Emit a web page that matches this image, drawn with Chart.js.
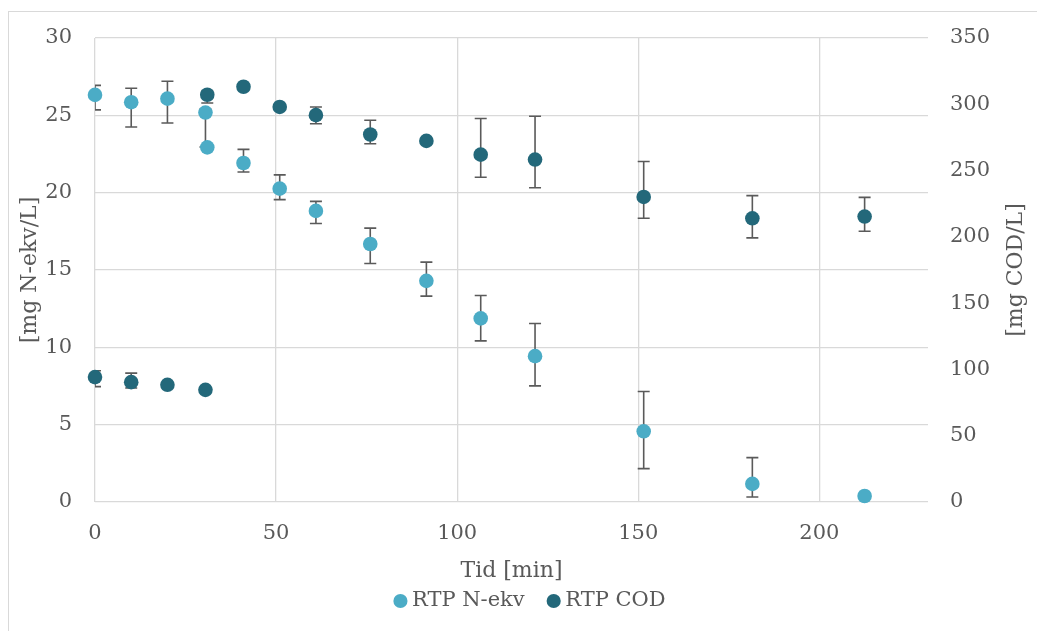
<!DOCTYPE html>
<html>
<head>
<meta charset="utf-8">
<script src="https://cdn.jsdelivr.net/npm/chart.js@4.4.1/dist/chart.umd.min.js"></script>
<style>
  html, body { margin: 0; padding: 0; background: #fff; overflow: hidden; }
  #frame { position: absolute; left: 8px; top: 11px; width: 1100px; height: 700px; border: 1px solid #d9d9d9; }
  #wrap { position: absolute; left: 0; top: 0; width: 1037px; height: 631px; }
</style>
</head>
<body>
<div id="frame"></div>
<div id="wrap"><canvas id="chart"></canvas></div>
<script>
// time in minutes (shared by both series)
var time = [0, 10, 20, 30.5, 31, 41, 51, 61, 76, 91.5, 106.5, 121.5, 151.5, 181.5, 212.5];

// RTP N-ekv [mg N-ekv/L], left axis
var nEkv  = [26.32, 25.85, 26.08, 25.18, 22.93, 21.92, 20.26, 18.82, 16.68, 14.30, 11.87, 9.43, 4.57, 1.17, 0.39];
var nLow  = [25.35, 24.25, 24.50, 22.95, null, 21.34, 19.55, 18.01, 15.42, 13.31, 10.42, 7.51, 2.16, 0.32, null];
var nHigh = [26.94, 26.75, 27.20, 25.40, null, 22.80, 21.15, 19.44, 17.71, 15.51, 13.35, 11.54, 7.14, 2.87, null];

// RTP COD [mg COD/L], right axis
var cod     = [94.2, 90.4, 88.4, 84.6, 307.2, 313.2, 298.0, 291.8, 277.2, 272.4, 262.0, 258.3, 230.1, 214.0, 215.3];
var codLow  = [87.0, 86.0, null, null, 301.0, null, null, 285.3, 270.2, null, 245.0, 237.0, 214.0, 199.2, 204.2];
var codHigh = [99.0, 97.2, null, null, 310.0, null, null, 298.0, 288.0, null, 289.3, 291.0, 256.8, 231.1, 229.8];

var seriesNames = ["RTP N-ekv", "RTP COD"];
var xTitle = "Tid [min]";
var leftTitle = "[mg N-ekv/L]";
var rightTitle = "[mg COD/L]";

var errors = [
	{ low: nLow, high: nHigh },
	{ low: codLow, high: codHigh }
];

function toPoints(ys) {
	var pts = [];
	for (var i = 0; i < time.length; i++) {
		pts.push({ x: time[i], y: ys[i] });
	}
	return pts;
}

var serif = '"DejaVu Serif", "Liberation Serif", serif';
var textGray = "#595959";
var gridGray = "#d9d9d9";

// error bars, drawn under the markers
var errorBars = {
	id: "errorBars",
	beforeDatasetsDraw: function(chart) {
		var ctx = chart.ctx;
		var area = chart.chartArea;
		var xs = chart.scales.x;
		ctx.save();
		ctx.beginPath();
		ctx.rect(area.left, area.top, area.right - area.left, area.bottom - area.top);
		ctx.clip();
		ctx.strokeStyle = "#5a5a5a";
		ctx.lineWidth = 1.6;
		chart.data.datasets.forEach(function(ds, d) {
			var ys = chart.scales[ds.yAxisID];
			var err = errors[d];
			for (var i = 0; i < time.length; i++) {
				if (err.low[i] == null) continue;
				var px = xs.getPixelForValue(time[i]);
				var top = ys.getPixelForValue(err.high[i]);
				var bot = ys.getPixelForValue(err.low[i]);
				ctx.beginPath();
				ctx.moveTo(px, top); ctx.lineTo(px, bot);
				ctx.moveTo(px - 6, top); ctx.lineTo(px + 6, top);
				ctx.moveTo(px - 6, bot); ctx.lineTo(px + 6, bot);
				ctx.stroke();
			}
		});
		ctx.restore();
	}
};

// right axis title reads bottom-to-top like the left one
var rightAxisTitle = {
	id: "rightAxisTitle",
	afterDraw: function(chart) {
		var s = chart.scales.y2;
		var ctx = chart.ctx;
		ctx.save();
		ctx.translate(s.right - 20.5, (s.top + s.bottom) / 2);
		ctx.rotate(-Math.PI / 2);
		ctx.font = "22px " + serif;
		ctx.fillStyle = textGray;
		ctx.textAlign = "center";
		ctx.textBaseline = "middle";
		ctx.fillText(rightTitle, 0, 0);
		ctx.restore();
	}
};

var ctx = document.getElementById("chart");

var data = {
	datasets : [
		{
			label : seriesNames[0],
			data : toPoints(nEkv),
			yAxisID : "y",
			backgroundColor : "#4bacc6",
			borderColor : "#4bacc6",
			borderWidth : 0,
			pointRadius : 7.3,
			pointHoverRadius : 7.3,
			pointStyle : "circle",
			clip : false
		},
		{
			label : seriesNames[1],
			data : toPoints(cod),
			yAxisID : "y2",
			backgroundColor : "#23687a",
			borderColor : "#23687a",
			borderWidth : 0,
			pointRadius : 7.3,
			pointHoverRadius : 7.3,
			pointStyle : "circle",
			clip : false
		}
	]
};

var options = {
	responsive : true,
	maintainAspectRatio : false,
	animation : false,
	layout : {
		padding : { top: 38, bottom: 9.5, left: 28, right: 0 }
	},
	plugins : {
		legend : {
			display : true,
			position : "bottom",
			labels : {
				usePointStyle : true,
				boxWidth : 2,
				boxHeight : 10,
				padding : 28,
				color : textGray,
				font : { family: serif, size: 21 }
			}
		},
		tooltip : { enabled: false }
	},
	scales : {
		x : {
			type : "linear",
			min : 0,
			max : 230,
			ticks : {
				stepSize : 50,
				includeBounds : false,
				padding : 19,
				color : textGray,
				font : { family: serif, size: 21 }
			},
			grid : { color: gridGray, lineWidth: 1.3, drawTicks: false },
			border : { display: false },
			title : {
				display : true,
				text : xTitle,
				color : textGray,
				font : { family: serif, size: 22 },
				padding : { top: 0, bottom: -21.5 }
			},
			afterFit : function(scale) { scale.height = 60.5; }
		},
		y : {
			position : "left",
			min : 0,
			max : 30,
			ticks : {
				stepSize : 5,
				padding : 23,
				color : textGray,
				font : { family: serif, size: 21 }
			},
			grid : { color: gridGray, lineWidth: 1.3, drawTicks: false },
			border : { display: false },
			title : {
				display : true,
				text : leftTitle,
				color : textGray,
				font : { family: serif, size: 22 },
				padding : { top: -10.7, bottom: 0 }
			},
			afterFit : function(scale) { scale.width = 67; }
		},
		y2 : {
			position : "right",
			min : 0,
			max : 350,
			ticks : {
				stepSize : 50,
				padding : 22,
				color : textGray,
				font : { family: serif, size: 21 }
			},
			grid : { display: false, drawTicks: false },
			border : { display: false },
			afterFit : function(scale) { scale.width = 109; }
		}
	}
};

var chart = new Chart(ctx, {
	type : "scatter",
	data : data,
	options : options,
	plugins : [errorBars, rightAxisTitle]
});
</script>
</body>
</html>
